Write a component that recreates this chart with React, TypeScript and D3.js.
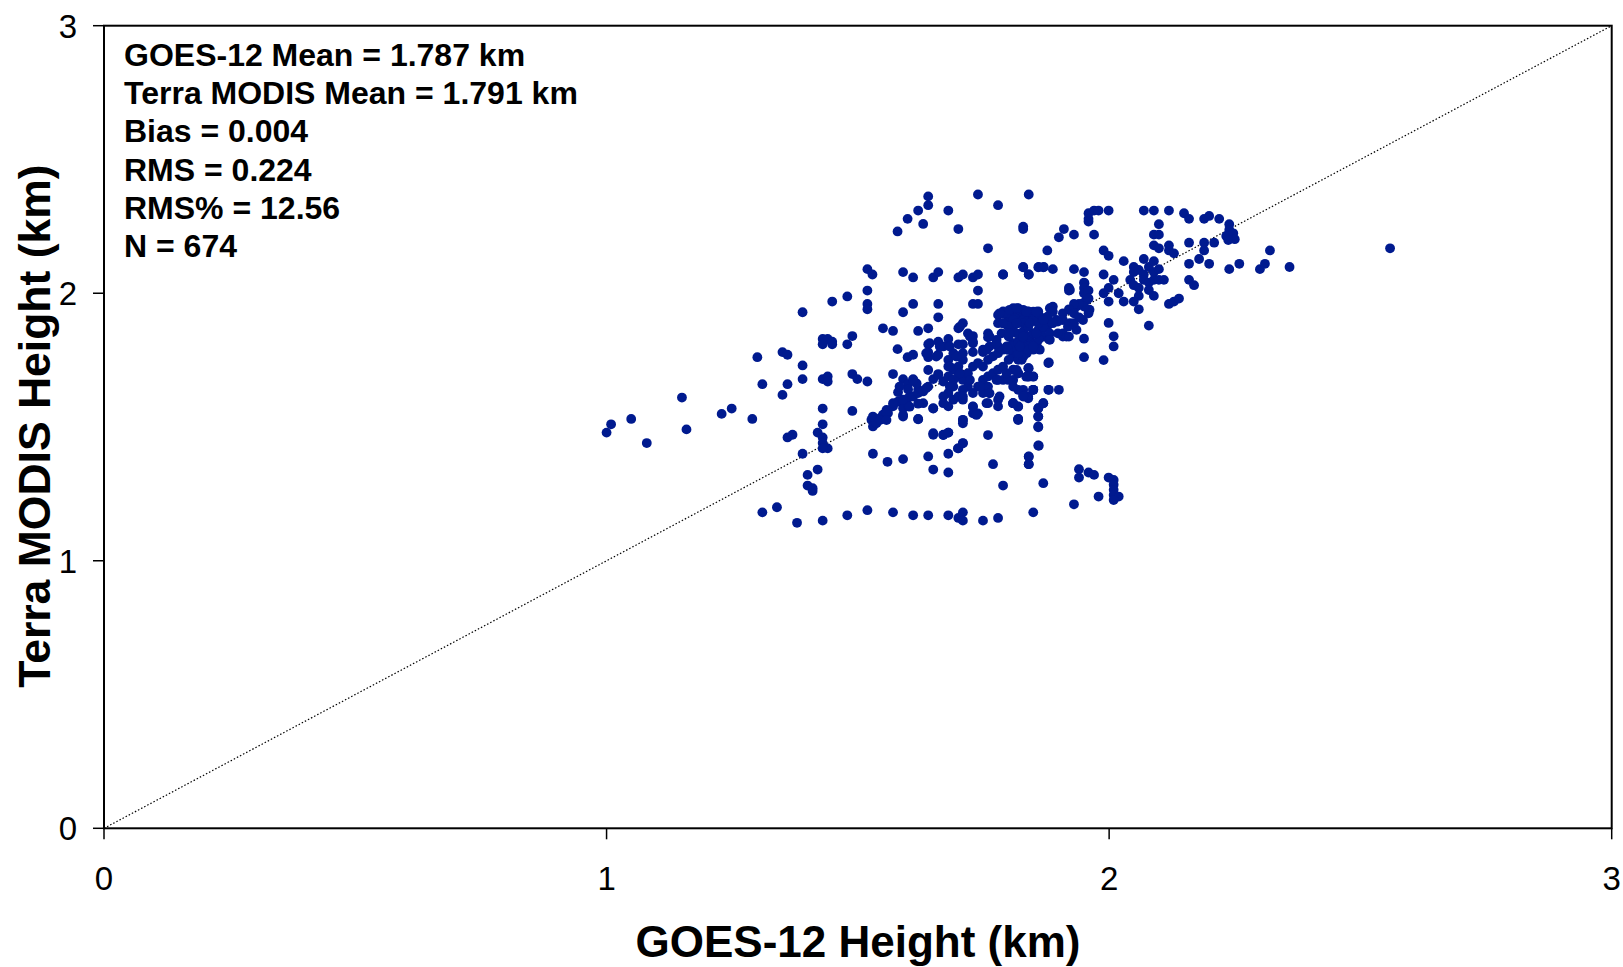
import React from "react";
import * as d3 from "d3";

// ---- Data (km) ----
const xTicks = [0, 1, 2, 3];
const yTicks = [0, 1, 2, 3];
const statLines = [
  "GOES-12 Mean = 1.787 km",
  "Terra MODIS Mean = 1.791 km",
  "Bias = 0.004",
  "RMS = 0.224",
  "RMS% = 12.56",
  "N = 674",
];
const xTitle = "GOES-12 Height (km)";
const yTitle = "Terra MODIS Height (km)";

// [GOES-12 height, Terra MODIS height]
const upperPoints: [number, number][] = [
  [1.640, 2.362], [1.739, 2.369], [1.840, 2.369], [1.640, 2.329], [1.620, 2.309], [1.680, 2.309],
  [1.779, 2.329], [1.599, 2.278], [1.630, 2.259], [1.579, 2.231], [1.700, 2.240], [1.829, 2.249],
  [1.829, 2.240], [1.759, 2.168], [1.877, 2.160], [1.519, 2.090], [1.529, 2.070], [1.590, 2.079],
  [1.610, 2.059], [1.650, 2.059], [1.660, 2.079], [1.700, 2.059], [1.709, 2.070], [1.729, 2.059],
  [1.739, 2.070], [1.789, 2.070], [1.829, 2.097], [1.840, 2.070], [1.859, 2.097], [1.869, 2.097],
  [1.519, 2.010], [1.739, 2.010], [1.449, 1.969], [1.479, 1.988], [1.519, 1.960], [1.519, 1.940],
  [1.610, 1.960], [1.660, 1.960], [1.729, 1.960], [1.739, 1.960], [1.390, 1.929], [1.590, 1.929],
  [1.660, 1.910],
];

const middlePoints: [number, number][] = [
  [1.550, 1.869], [1.570, 1.859], [1.620, 1.859], [1.640, 1.869], [1.700, 1.869], [1.709, 1.888],
  [1.719, 1.850], [1.729, 1.840], [1.759, 1.850], [1.759, 1.835], [1.430, 1.829], [1.440, 1.829],
  [1.430, 1.809], [1.449, 1.809], [1.449, 1.819], [1.479, 1.809], [1.489, 1.840], [1.579, 1.791],
  [1.640, 1.809], [1.660, 1.819], [1.680, 1.829], [1.670, 1.801], [1.700, 1.809], [1.709, 1.809],
  [1.729, 1.819], [1.300, 1.761], [1.350, 1.780], [1.360, 1.770], [1.390, 1.730], [1.599, 1.761],
  [1.610, 1.770], [1.640, 1.780], [1.640, 1.761], [1.660, 1.770], [1.729, 1.780], [1.749, 1.780],
  [1.310, 1.660], [1.360, 1.660], [1.350, 1.620], [1.390, 1.679], [1.430, 1.679], [1.440, 1.689],
  [1.440, 1.670], [1.489, 1.698], [1.499, 1.679], [1.519, 1.670], [1.570, 1.698], [1.590, 1.679],
  [1.600, 1.660], [1.610, 1.679], [1.580, 1.630], [1.600, 1.640], [1.620, 1.640], [1.640, 1.651],
  [1.650, 1.679], [1.660, 1.698], [1.670, 1.670],
  [1.150, 1.610], [1.009, 1.510], [1.000, 1.479], [1.049, 1.530], [1.080, 1.440], [1.159, 1.491],
  [1.229, 1.549], [1.249, 1.569], [1.290, 1.530], [1.430, 1.569], [1.489, 1.560], [1.430, 1.510],
  [1.420, 1.479], [1.430, 1.461], [1.360, 1.461], [1.370, 1.471], [1.430, 1.440], [1.440, 1.420],
  [1.430, 1.420], [1.390, 1.400], [1.530, 1.400], [1.559, 1.370], [1.590, 1.380], [1.640, 1.390],
  [1.680, 1.400], [1.700, 1.420], [1.709, 1.440], [1.650, 1.471], [1.670, 1.471], [1.680, 1.479],
  [1.650, 1.341], [1.680, 1.330], [1.400, 1.321], [1.420, 1.341], [1.400, 1.281], [1.410, 1.261],
  [1.410, 1.271],
];

const lowerPoints: [number, number][] = [
  [1.310, 1.181], [1.339, 1.200], [1.379, 1.142], [1.430, 1.150], [1.479, 1.170], [1.519, 1.189],
  [1.570, 1.181], [1.610, 1.170], [1.640, 1.170], [1.680, 1.170], [1.700, 1.160], [1.709, 1.181],
  [1.709, 1.150], [1.749, 1.150], [1.779, 1.160], [1.849, 1.181], [1.789, 1.281], [1.869, 1.290],
  [1.769, 1.361], [1.840, 1.390], [1.840, 1.361], [1.859, 1.431], [1.819, 1.530], [1.859, 1.570],
  [1.859, 1.539], [1.859, 1.502], [1.869, 1.589],
  [1.940, 1.342], [1.940, 1.311], [1.959, 1.330], [1.970, 1.321], [1.999, 1.311], [2.009, 1.302],
  [2.009, 1.284], [2.009, 1.265], [2.009, 1.246], [2.019, 1.240], [2.009, 1.227], [1.979, 1.240],
  [1.930, 1.211], [1.860, 1.430], [1.840, 1.389], [1.840, 1.361],
];

const corePoints: [number, number][] = [
  [1.527, 1.527], [1.530, 1.502], [1.537, 1.514], [1.544, 1.533], [1.550, 1.546], [1.560, 1.552],
  [1.557, 1.564], [1.570, 1.577], [1.580, 1.595], [1.590, 1.602], [1.600, 1.608], [1.610, 1.614],
  [1.620, 1.627], [1.630, 1.633], [1.590, 1.570], [1.600, 1.577], [1.590, 1.539], [1.620, 1.530],
  [1.650, 1.569], [1.630, 1.589], [1.620, 1.587],
  [1.680, 1.751], [1.690, 1.776], [1.700, 1.764], [1.709, 1.751], [1.680, 1.726], [1.690, 1.714],
  [1.700, 1.726], [1.680, 1.689], [1.690, 1.676], [1.700, 1.689], [1.709, 1.676], [1.719, 1.701],
  [1.729, 1.726], [1.739, 1.739], [1.749, 1.726], [1.759, 1.751], [1.769, 1.764], [1.779, 1.776],
  [1.789, 1.789], [1.800, 1.801], [1.809, 1.813], [1.819, 1.819], [1.829, 1.826], [1.839, 1.838],
  [1.849, 1.850], [1.859, 1.863], [1.869, 1.869], [1.879, 1.882],
  [1.719, 1.651], [1.729, 1.627], [1.739, 1.651], [1.749, 1.676], [1.759, 1.689], [1.769, 1.701],
  [1.779, 1.714], [1.789, 1.726], [1.800, 1.751], [1.809, 1.764], [1.819, 1.776], [1.829, 1.789],
  [1.839, 1.801], [1.680, 1.627], [1.690, 1.602], [1.700, 1.614], [1.709, 1.602], [1.680, 1.577],
  [1.670, 1.589], [1.709, 1.639], [1.690, 1.651], [1.749, 1.627], [1.759, 1.651], [1.779, 1.676],
  [1.789, 1.676], [1.809, 1.676], [1.819, 1.701], [1.839, 1.689], [1.849, 1.689], [1.829, 1.639],
  [1.849, 1.639], [1.839, 1.614], [1.809, 1.589], [1.819, 1.577], [1.779, 1.602], [1.779, 1.577],
  [1.759, 1.589], [1.729, 1.577], [1.739, 1.551], [1.729, 1.551], [1.709, 1.527], [1.709, 1.514],
  [1.879, 1.739], [1.879, 1.639], [1.839, 1.720],
  [1.779, 1.919], [1.789, 1.932], [1.809, 1.944], [1.819, 1.944], [1.800, 1.907], [1.809, 1.913],
  [1.819, 1.913], [1.829, 1.925], [1.839, 1.932], [1.859, 1.932], [1.779, 1.888], [1.789, 1.888],
  [1.800, 1.876], [1.809, 1.876], [1.819, 1.888], [1.829, 1.900], [1.839, 1.900], [1.849, 1.913],
  [1.859, 1.913], [1.869, 1.907], [1.786, 1.850], [1.800, 1.838], [1.816, 1.850], [1.829, 1.857],
  [1.842, 1.826], [1.856, 1.813], [1.869, 1.838], [1.816, 1.776], [1.826, 1.751], [1.836, 1.776],
  [1.849, 1.789], [1.862, 1.789], [1.776, 1.826], [1.762, 1.801], [1.749, 1.789], [1.779, 1.801],
  [1.802, 1.789],
  [1.880, 1.828], [1.860, 1.828], [1.878, 1.913], [1.880, 1.741], [1.840, 1.720], [1.840, 1.688],
  [1.849, 1.688], [1.880, 1.639], [1.849, 1.639], [1.839, 1.607], [1.829, 1.620], [1.819, 1.639],
  [1.809, 1.651], [1.799, 1.676], [1.819, 1.701], [1.809, 1.714], [1.819, 1.751], [1.829, 1.763],
  [1.839, 1.788], [1.819, 1.776], [1.809, 1.801], [1.799, 1.788], [1.819, 1.813], [1.829, 1.832],
  [1.839, 1.838], [1.849, 1.850], [1.869, 1.875], [1.859, 1.888], [1.849, 1.900], [1.829, 1.888],
  [1.839, 1.875], [1.859, 1.925], [1.849, 1.931], [1.839, 1.931], [1.829, 1.938], [1.819, 1.940],
  [1.809, 1.940], [1.799, 1.925], [1.789, 1.925], [1.809, 1.900], [1.799, 1.875], [1.829, 2.098],
  [1.840, 2.070], [1.860, 2.098], [1.870, 2.098], [1.789, 2.070], [1.809, 1.589], [1.819, 1.576],
  [1.819, 1.530], [1.859, 1.570], [1.859, 1.539], [1.859, 1.499], [1.869, 1.589],
];

const fillPoints: [number, number][] = [
  [1.683, 1.726], [1.703, 1.701], [1.723, 1.676], [1.743, 1.651], [1.762, 1.626], [1.683, 1.651],
  [1.670, 1.614], [1.709, 1.614], [1.729, 1.576], [1.736, 1.545], [1.709, 1.526], [1.776, 1.676],
  [1.796, 1.701], [1.816, 1.713], [1.835, 1.688], [1.849, 1.639], [1.829, 1.614], [1.809, 1.589],
  [1.819, 1.526], [1.782, 1.614], [1.756, 1.589], [1.650, 1.570], [1.636, 1.645], [1.617, 1.663],
  [1.590, 1.601], [1.603, 1.576], [1.570, 1.589], [1.557, 1.551], [1.583, 1.651], [1.610, 1.676],
  [1.640, 1.713], [1.660, 1.695], [1.530, 1.539], [1.544, 1.526], [1.557, 1.526], [1.590, 1.545],
  [1.620, 1.529], [1.650, 1.477], [1.670, 1.470], [1.680, 1.479], [1.699, 1.420], [1.709, 1.439],
  [1.759, 1.470],
  [1.782, 1.925], [1.802, 1.938], [1.816, 1.944], [1.835, 1.931], [1.855, 1.931], [1.882, 1.944],
  [1.908, 1.925], [1.935, 1.950], [1.948, 1.963], [1.961, 1.938], [1.789, 1.888], [1.816, 1.888],
  [1.842, 1.888], [1.869, 1.900], [1.895, 1.900], [1.922, 1.888], [1.948, 1.900], [1.802, 1.850],
  [1.829, 1.838], [1.855, 1.850], [1.882, 1.850], [1.908, 1.838], [1.935, 1.863], [1.776, 1.813],
  [1.796, 1.801], [1.822, 1.801], [1.849, 1.801], [1.882, 1.826], [1.915, 1.838], [1.703, 1.875],
  [1.723, 1.838], [1.729, 1.813], [1.709, 1.776], [1.683, 1.801], [1.663, 1.801], [1.643, 1.813],
  [1.636, 1.776], [1.656, 1.763], [1.696, 1.763], [1.762, 1.838], [1.756, 1.788], [1.951, 2.037],
  [1.951, 2.000], [1.955, 1.975], [1.922, 2.012], [1.922, 1.938],
];

const rightPoints: [number, number][] = [
  [1.900, 2.209], [1.910, 2.240], [1.930, 2.219], [1.970, 2.219], [1.959, 2.299], [1.970, 2.309],
  [1.979, 2.309], [1.999, 2.309], [1.959, 2.278], [1.959, 2.268], [2.069, 2.309], [2.089, 2.309],
  [2.119, 2.309], [2.149, 2.299], [2.159, 2.278], [2.189, 2.278], [2.199, 2.289], [2.219, 2.278],
  [2.239, 2.258], [2.239, 2.237], [2.233, 2.214], [2.247, 2.224], [2.250, 2.202], [2.237, 2.199],
  [2.099, 2.258], [2.089, 2.219], [2.099, 2.219], [2.089, 2.179], [2.099, 2.168], [2.119, 2.179],
  [2.119, 2.160], [2.129, 2.149], [2.159, 2.189], [2.189, 2.189], [2.189, 2.160], [2.209, 2.189],
  [2.179, 2.128], [2.159, 2.110], [2.199, 2.110], [2.239, 2.090], [2.259, 2.110], [2.300, 2.090],
  [2.310, 2.110], [2.320, 2.160], [2.359, 2.098], [2.559, 2.168],
  [1.989, 2.160], [1.999, 2.140], [2.029, 2.120], [1.888, 2.090], [1.930, 2.090], [1.950, 2.079],
  [1.989, 2.070], [2.009, 2.050], [2.049, 2.098], [2.069, 2.128], [2.049, 2.079], [2.059, 2.087],
  [2.069, 2.070], [2.079, 2.098], [2.089, 2.079], [2.099, 2.090], [2.089, 2.120], [2.042, 2.050],
  [2.049, 2.030], [2.059, 2.020], [2.069, 2.050], [2.079, 2.040], [2.089, 2.050], [2.099, 2.050],
  [2.109, 2.050], [2.079, 2.012], [2.089, 1.990], [2.059, 1.990], [2.049, 1.969], [2.029, 1.969],
  [2.019, 2.000], [1.999, 1.969], [1.999, 2.020], [1.989, 2.000], [2.059, 1.940], [2.079, 1.879],
  [2.119, 1.960], [2.129, 1.969], [2.139, 1.980], [2.159, 2.050], [2.169, 2.030],
  [1.920, 2.020], [1.920, 2.010], [1.950, 2.040], [1.950, 2.020], [1.950, 2.000], [1.959, 2.010],
  [1.959, 1.980], [1.959, 1.940], [1.959, 1.925], [1.950, 1.950], [1.940, 1.960], [1.930, 1.960],
  [1.920, 1.940], [1.930, 1.925], [1.940, 1.910], [1.930, 1.888], [1.888, 1.950], [1.888, 1.931],
  [1.908, 1.900], [1.898, 1.894], [1.918, 1.875], [1.908, 1.850], [1.898, 1.850], [1.920, 1.838],
  [1.888, 1.888], [1.999, 1.889], [2.009, 1.839], [2.009, 1.801], [1.950, 1.830], [1.950, 1.761],
  [1.989, 1.750], [1.900, 1.639],
];

const allPoints = [
  ...upperPoints, ...middlePoints, ...lowerPoints, ...corePoints, ...fillPoints, ...rightPoints,
];

export default function App() {
  const W = 1623;
  const H = 967;
  const left = 104, right = 1611.7, top = 25.7, bottom = 828.3;
  const x = d3.scaleLinear().domain([0, 3]).range([left, right]);
  const y = d3.scaleLinear().domain([0, 3]).range([bottom, top]);
  const font = "Arial, 'Liberation Sans', Helvetica, sans-serif";
  const dotColor = "#001a8f";

  return (
    <div style={{ position: "absolute", left: 0, top: 0 }}>
      <svg width={W} height={H} style={{ display: "block", background: "#fff" }}>
        {/* 1:1 line */}
        <line x1={x(0)} y1={y(0)} x2={x(3)} y2={y(3)} stroke="#000" strokeWidth={1.2} strokeDasharray="1.5,2" />
        {/* points */}
        <g fill={dotColor}>
          {allPoints.map((p, i) => (
            <circle key={i} cx={x(p[0])} cy={y(p[1])} r={4.9} />
          ))}
        </g>
        {/* frame */}
        <rect x={left} y={top} width={right - left} height={bottom - top} fill="none" stroke="#000" strokeWidth={2} />
        {/* y ticks */}
        {yTicks.map((t) => (
          <g key={"y" + t}>
            <line x1={left - 11} x2={left} y1={y(t)} y2={y(t)} stroke="#000" strokeWidth={1.5} />
            <text x={77} y={y(t)} dy="0.36em" textAnchor="end" fontFamily={font} fontSize={33}>{t}</text>
          </g>
        ))}
        {/* x ticks */}
        {xTicks.map((t) => (
          <g key={"x" + t}>
            <line x1={x(t)} x2={x(t)} y1={bottom} y2={bottom + 11} stroke="#000" strokeWidth={1.5} />
            <text x={x(t)} y={890} textAnchor="middle" fontFamily={font} fontSize={33}>{t}</text>
          </g>
        ))}
        {/* stats */}
        {statLines.map((s, i) => (
          <text key={s} x={124} y={66 + i * 38.2} fontFamily={font} fontSize={32} fontWeight="bold">{s}</text>
        ))}
        {/* axis titles */}
        <text x={858} y={957} textAnchor="middle" fontFamily={font} fontSize={44} fontWeight="bold">{xTitle}</text>
        <text transform={`translate(50,426) rotate(-90)`} textAnchor="middle" fontFamily={font} fontSize={44.5} fontWeight="bold">{yTitle}</text>
      </svg>
    </div>
  );
}
